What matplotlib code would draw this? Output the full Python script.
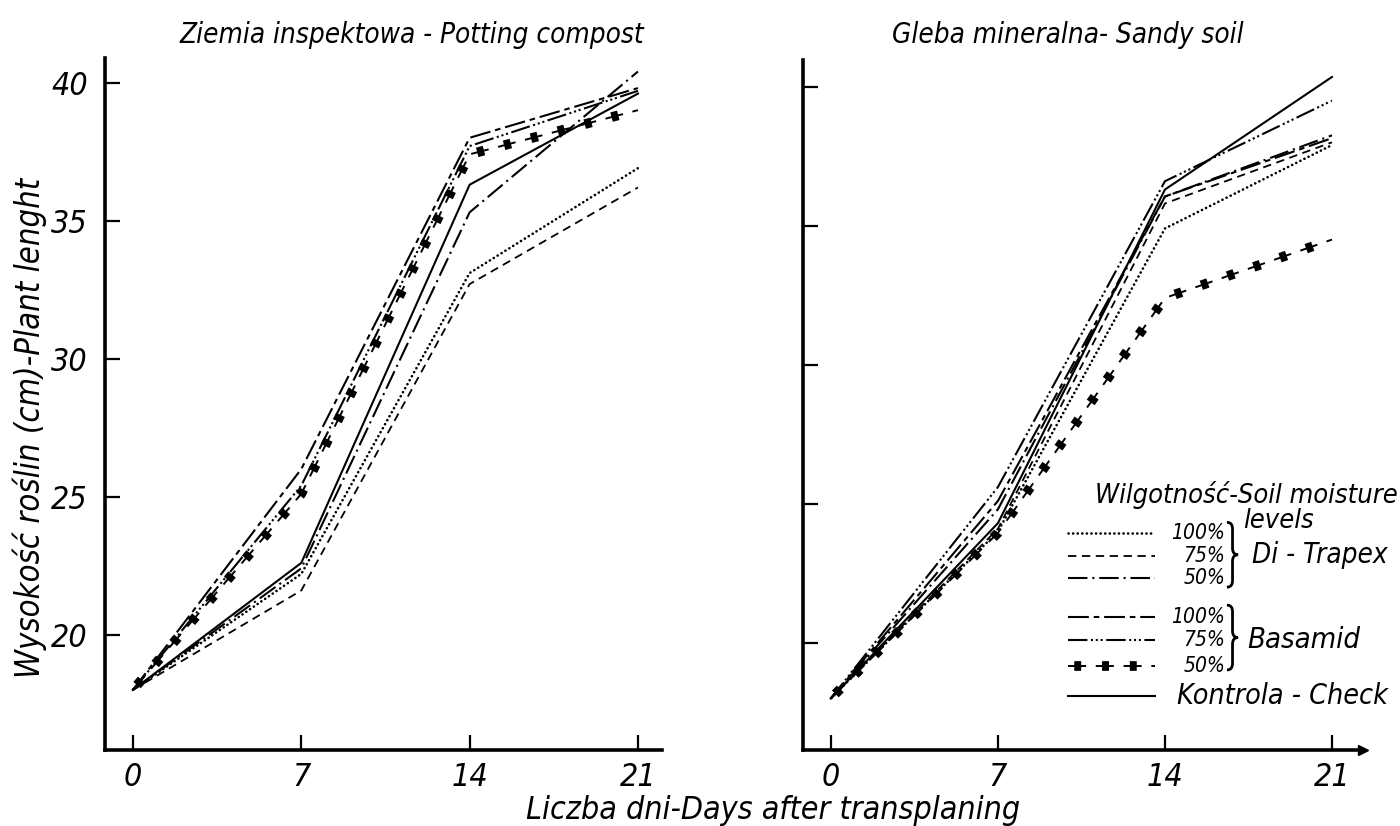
import matplotlib
matplotlib.use('Agg')
from matplotlib import pyplot as plt
from matplotlib.path import Path
from matplotlib.patches import PathPatch

plt.rcParams['font.family'] = ['DejaVu Sans']
plt.rcParams['font.style'] = 'italic'
plt.rcParams['font.stretch'] = 'condensed'
plt.rcParams['lines.scale_dashes'] = False

days = [0, 7, 14, 21]
day_labels = ['0', '7', '14', '21']
y_ticks = [20, 25, 30, 35, 40]

# Ziemia inspektowa - Potting compost
pot_dt100 = [18.0, 22.2, 33.1, 36.9]
pot_dt75 = [18.0, 21.6, 32.7, 36.2]
pot_dt50 = [18.0, 22.4, 35.3, 40.4]
pot_b100 = [18.0, 26.0, 38.0, 39.8]
pot_b75 = [18.0, 25.4, 37.7, 39.7]
pot_b50 = [18.0, 25.1, 37.4, 39.0]
pot_check = [18.0, 22.6, 36.3, 39.6]

# Gleba mineralna - Sandy soil
sand_dt100 = [18.0, 24.0, 34.9, 37.9]
sand_dt75 = [18.0, 24.1, 35.8, 38.0]
sand_dt50 = [18.0, 24.8, 36.05, 38.25]
sand_b100 = [18.0, 25.1, 36.05, 38.15]
sand_b75 = [18.0, 25.6, 36.6, 39.5]
sand_b50 = [18.0, 23.95, 32.4, 34.5]
sand_check = [18.0, 24.3, 36.3, 40.35]

pct_labels = ['100%', '75%', '50%']

styles = {
    'dt100': dict(color='k', lw=1.9, ls=(0, (0.1, 3.2)), dash_capstyle='round'),
    'dt75': dict(color='k', lw=1.3, ls=(0, (6, 4))),
    'dt50': dict(color='k', lw=1.5, ls=(0, (14, 3.5, 1.5, 3.5))),
    'b100': dict(color='k', lw=1.5, ls=(0, (15, 3.5, 4, 3.5))),
    'b75': dict(color='k', lw=1.5, ls=(0, (14, 2.5, 1.5, 2, 1.5, 2, 1.5, 2.5))),
    'check': dict(color='k', lw=1.5, ls='-'),
}


def plot_blob_line(ax, x, y, **kw):
    # dashed line with a fat blob in the middle of every dash (Basamid 50%)
    ax.plot(x, y, color='k', lw=1.4, ls=(0, (13, 7)), **kw)
    ax.plot(x, y, color='k', lw=7, ls=(15.5, (5, 15)), **kw)


def draw_brace(ax, x0, y0, y1, w):
    # right-pointing curly brace in axes fraction coordinates
    ym = (y0 + y1) / 2.0
    d = (y1 - y0) * 0.1
    xm = x0 + w / 2.0
    verts = [(x0, y1), (xm, y1), (xm, y1 - d), (xm, ym + d), (xm, ym), (x0 + w, ym),
             (xm, ym), (xm, ym - d), (xm, y0 + d), (xm, y0), (x0, y0)]
    codes = [Path.MOVETO, Path.CURVE3, Path.CURVE3, Path.LINETO, Path.CURVE3, Path.CURVE3,
             Path.CURVE3, Path.CURVE3, Path.LINETO, Path.CURVE3, Path.CURVE3]
    ax.add_patch(PathPatch(Path(verts, codes), fill=False, lw=2, color='k',
                           transform=ax.transAxes, clip_on=False))


def draw_panel(ax, series):
    dt100, dt75, dt50, b100, b75, b50, check = series
    ax.plot(days, dt100, **styles['dt100'])
    ax.plot(days, dt75, **styles['dt75'])
    ax.plot(days, dt50, **styles['dt50'])
    ax.plot(days, b100, **styles['b100'])
    ax.plot(days, b75, **styles['b75'])
    plot_blob_line(ax, days, b50)
    ax.plot(days, check, **styles['check'])


def setup_axes(ax, xlim, ylim, ylabels):
    ax.set_xlim(xlim)
    ax.set_ylim(ylim)
    for s in ['top', 'right']:
        ax.spines[s].set_visible(False)
    for s in ['left', 'bottom']:
        ax.spines[s].set_linewidth(2.6)
    ax.set_xticks(days)
    ax.set_xticklabels(day_labels)
    ax.set_yticks(y_ticks)
    if ylabels:
        ax.set_yticklabels([str(t) for t in y_ticks])
    else:
        ax.set_yticklabels([])
    ax.tick_params(direction='in', length=11, width=1.6, labelsize=23)
    ax.tick_params(axis='x', pad=9)
    ax.tick_params(axis='y', pad=12)


fig = plt.figure(figsize=(14, 8.26), dpi=100)
W, H = 1400.0, 826.0

ax1 = fig.add_axes([104.5 / W, 1 - 750 / H, (662 - 104.5) / W, (750 - 58) / H])
ax2 = fig.add_axes([803 / W, 1 - 750 / H, (1363 - 803) / W, (750 - 60) / H])

draw_panel(ax1, [pot_dt100, pot_dt75, pot_dt50, pot_b100, pot_b75, pot_b50, pot_check])
draw_panel(ax2, [sand_dt100, sand_dt75, sand_dt50, sand_b100, sand_b75, sand_b50, sand_check])

setup_axes(ax1, (-1.185, 22.0), (15.82, 40.89), True)
setup_axes(ax2, (-1.17, 22.3), (16.14, 40.96), False)

# small arrow head at the end of the right x axis
ax2.plot([1.0], [0.0], marker='>', color='k', ms=7, transform=ax2.transAxes, clip_on=False)

fig.text(412 / W, 1 - 35 / H, 'Ziemia inspektowa - Potting compost',
         ha='center', va='center', fontsize=20)
fig.text(1068 / W, 1 - 35 / H, 'Gleba mineralna- Sandy soil',
         ha='center', va='center', fontsize=20)
fig.text(30 / W, 1 - 428 / H, 'Wysokość roślin (cm)-Plant lenght',
         ha='center', va='center', rotation=90, fontsize=23.5)
fig.text(773 / W, 1 - 810 / H, 'Liczba dni-Days after transplaning',
         ha='center', va='center', fontsize=23)

# legend drawn by hand, as in the original figure
tr = ax2.transAxes
lx = [0.473, 0.629]
rows = [0.3145, 0.281, 0.250, 0.193, 0.159, 0.122, 0.078]
keys = ['dt100', 'dt75', 'dt50', 'b100', 'b75', 'b50', 'check']
for key, yy in zip(keys, rows):
    if key == 'b50':
        plot_blob_line(ax2, lx, [yy, yy], transform=tr, clip_on=False)
    else:
        ax2.plot(lx, [yy, yy], transform=tr, clip_on=False, **styles[key])
for lab, yy in zip(pct_labels + pct_labels, rows[:6]):
    ax2.text(0.754, yy, lab, transform=tr, ha='right', va='center', fontsize=15)

ax2.text(0.521, 0.3696, 'Wilgotność-Soil moisture', transform=tr,
         ha='left', va='center', fontsize=19.5)
ax2.text(0.786, 0.332, 'levels', transform=tr, ha='left', va='center', fontsize=19.5)
draw_brace(ax2, 0.757, 0.236, 0.330, 0.02)
draw_brace(ax2, 0.757, 0.116, 0.210, 0.02)
ax2.text(0.802, 0.2826, 'Di - Trapex', transform=tr, ha='left', va='center', fontsize=20)
ax2.text(0.793, 0.159, 'Basamid', transform=tr, ha='left', va='center', fontsize=21)
ax2.text(0.668, 0.078, 'Kontrola - Check', transform=tr, ha='left', va='center', fontsize=20.5)

plt.savefig('out.png', dpi=100)
